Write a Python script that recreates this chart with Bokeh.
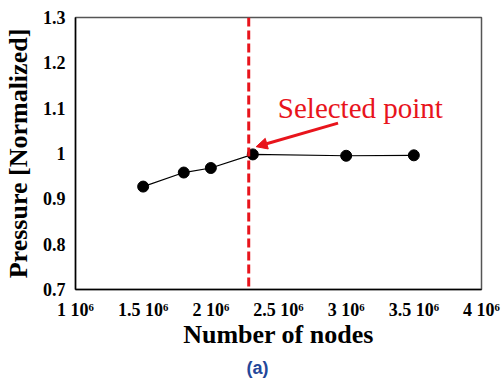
from bokeh.plotting import figure
from bokeh.models import Range1d, FixedTicker, Span, Arrow, NormalHead, Title
from bokeh.core.properties import value
from bokeh.embed import file_html
from bokeh.resources import INLINE

# Data
nodes = [1.5e6, 1.8e6, 2.0e6, 2.31e6, 3.0e6, 3.5e6]
pressure = [0.927, 0.958, 0.968, 0.998, 0.995, 0.996]
x_ticks = [1e6, 1.5e6, 2e6, 2.5e6, 3e6, 3.5e6, 4e6]
x_tick_labels = ["1 10\u2076", "1.5 10\u2076", "2 10\u2076", "2.5 10\u2076", "3 10\u2076", "3.5 10\u2076", "4 10\u2076"]
y_ticks = [0.7, 0.8, 0.9, 1.0, 1.1, 1.2, 1.3]
y_tick_labels = ["0.7", "0.8", "0.9", "1", "1.1", "1.2", "1.3"]
selected_x = 2.28e6
annot_text = ["Selected point"]
annot_x = [2.495e6]
annot_y = [1.10]
arrow_start = (2.94e6, 1.067)
arrow_end = (2.335e6, 1.015)

FONT = "Liberation Serif"

p = figure(width=504, height=382, output_backend="svg", toolbar_location=None,
           x_range=Range1d(1e6, 4e6), y_range=Range1d(0.7, 1.3),
           min_border_left=74, min_border_right=23, min_border_top=17, min_border_bottom=93)
p.background_fill_color = "white"
p.border_fill_color = "white"
p.outline_line_color = "#555555"
p.outline_line_width = 1.5
p.xgrid.visible = False
p.ygrid.visible = False

for ax in (p.xaxis[0], p.yaxis[0]):
    ax.axis_line_color = "black"
    ax.axis_line_width = 1.5
    ax.major_tick_line_color = None
    ax.minor_tick_line_color = None
    ax.major_tick_out = 0
    ax.major_tick_in = 0
    ax.major_label_text_font = FONT
    ax.major_label_text_font_style = "bold"
    ax.major_label_text_font_size = "18px"
    ax.major_label_text_color = "black"
    ax.axis_label_text_font = FONT
    ax.axis_label_text_font_style = "bold"
    ax.axis_label_text_font_size = "26px"
    ax.axis_label_text_color = "black"

p.xaxis.ticker = FixedTicker(ticks=x_ticks)
p.xaxis.major_label_overrides = {t: l for t, l in zip(x_ticks, x_tick_labels)}
p.yaxis.ticker = FixedTicker(ticks=y_ticks)
p.yaxis.major_label_overrides = {t: l for t, l in zip(y_ticks, y_tick_labels)}
p.xaxis.major_label_standoff = 10
p.yaxis.major_label_standoff = 10
p.xaxis.axis_label = "Number of nodes"
p.yaxis.axis_label = "Pressure [Normalized]"
p.xaxis.axis_label_standoff = -3
p.yaxis.axis_label_standoff = 7

p.line(nodes, pressure, line_color="black", line_width=1.2)
p.scatter(nodes, pressure, size=11, fill_color="black", line_color="black")

p.add_layout(Span(location=selected_x, dimension="height", line_color="#e8141c",
                  line_width=3, line_dash="9 4"))

p.add_layout(Arrow(end=NormalHead(size=11, fill_color="#e8141c", line_color="#e8141c"),
                   x_start=arrow_start[0], y_start=arrow_start[1],
                   x_end=arrow_end[0], y_end=arrow_end[1],
                   line_color="#e8141c", line_width=3))

p.text(x=annot_x, y=annot_y, text=annot_text, text_font=value(FONT),
       text_font_size="29px", text_color="#e8141c", text_align="left",
       text_baseline="alphabetic")

p.add_layout(Title(text="(a)", align="left", offset=171, text_font="Liberation Sans",
                   text_font_style="bold", text_font_size="18px", text_color="#24479a",
                   standoff=9), "below")

open("out.html", "w").write(file_html(p, INLINE))
